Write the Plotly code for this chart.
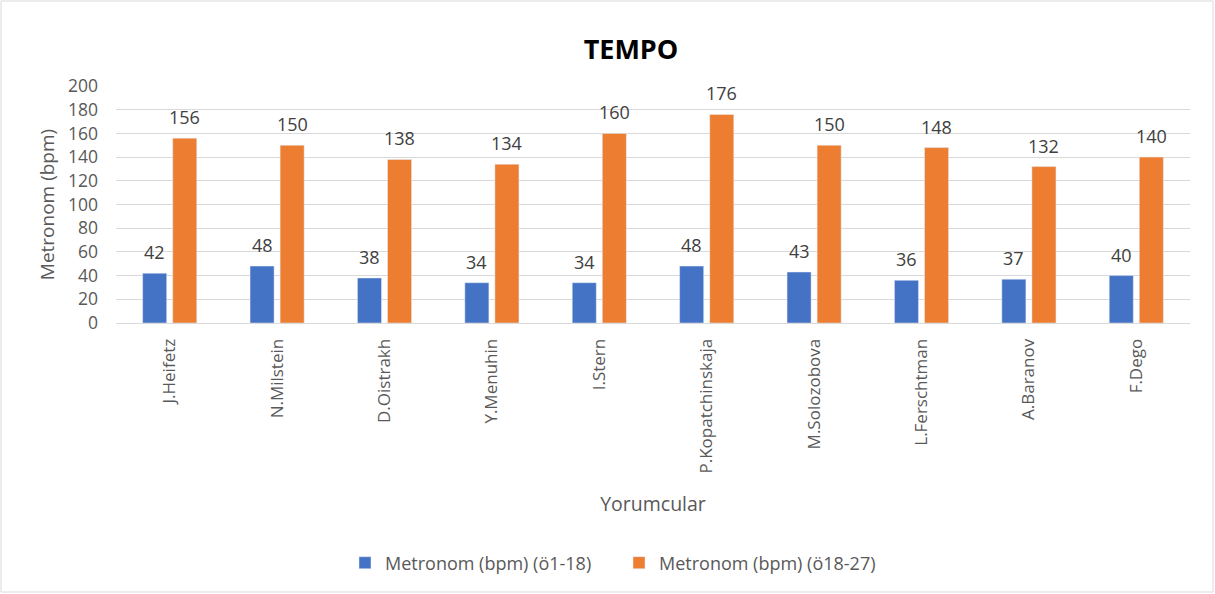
import plotly.graph_objects as go

categories = ["J.Heifetz", "N.Milstein", "D.Oistrakh", "Y.Menuhin", "I.Stern",
              "P.Kopatchinskaja", "M.Solozobova", "L.Ferschtman", "A.Baranov", "F.Dego"]
series1_name = "Metronom (bpm) (ö1-18)"
series1 = [42, 48, 38, 34, 34, 48, 43, 36, 37, 40]
series2_name = "Metronom (bpm) (ö18-27)"
series2 = [156, 150, 138, 134, 160, 176, 150, 148, 132, 140]
y_ticks = [0, 20, 40, 60, 80, 100, 120, 140, 160, 180, 200]

FONT = "Open Sans"
GRAY = "#595959"

L, R, T, B = 116, 25, 86, 271
W, H = 1215, 594
pw, ph = W - L - R, H - T - B
BARGAP, GROUPGAP = 0.44, 0.2

fig = go.Figure()
series = [(series1_name, series1, "#4472C4"), (series2_name, series2, "#ED7D31")]
for name, vals, col in series:
    fig.add_trace(go.Bar(x=categories, y=vals, name=name, marker_color=col))

# data labels placed above each bar
slot = pw / len(categories) * (1 - BARGAP) / len(series)
annotations = []
for i, (name, vals, col) in enumerate(series):
    shift = (i - (len(series) - 1) / 2) * slot
    for c, v in zip(categories, vals):
        annotations.append(dict(x=c, y=v, xref="x", yref="y", text=str(v), showarrow=False,
                                xshift=shift, yshift=21, yanchor="middle",
                                font=dict(size=18, color="#404040", family=FONT)))

fig.update_layout(
    width=W, height=H,
    margin=dict(l=L, r=R, t=T, b=B, autoexpand=False),
    paper_bgcolor="white", plot_bgcolor="white",
    barmode="group", bargap=BARGAP, bargroupgap=GROUPGAP,
    title=dict(text="<b>TEMPO</b>", x=631 / W, xanchor="center", y=1 - 50 / H, yanchor="middle",
               font=dict(size=27, color="black", family=FONT)),
    font=dict(family=FONT, color=GRAY),
    legend=dict(orientation="h", x=0.5 - 34 / pw, xanchor="center", y=(323 - 563) / ph,
                yanchor="middle",
                font=dict(size=18, color=GRAY), itemwidth=30, entrywidth=229,
                traceorder="normal"),
    yaxis=dict(range=[0, 200], tickvals=y_ticks, showgrid=True, gridcolor="#D9D9D9",
               zeroline=False, showline=False, ticks="", automargin=False,
               ticklabelstandoff=17,
               tickfont=dict(size=17.5, color=GRAY),
               title=dict(text="Metronom (bpm)", font=dict(size=19, color=GRAY), standoff=8)),
    xaxis=dict(tickangle=-90, showline=True, linecolor="#D9D9D9", ticks="", automargin=False,
               ticklabelstandoff=8,
               tickfont=dict(size=17, color=GRAY),
               title=dict(text="Yorumcular", font=dict(size=19.5, color=GRAY), standoff=24)),
    annotations=annotations,
    shapes=[dict(type="rect", xref="paper", yref="paper",
                 x0=(1 - L) / pw, x1=(1213 - L) / pw,
                 y0=(323 - 592) / ph, y1=(323 - 1) / ph,
                 line=dict(color="#D9D9D9", width=1), fillcolor="rgba(0,0,0,0)")],
)

fig.write_html("out.html", config={"displayModeBar": False},
               post_script="document.body.style.margin='0';")
